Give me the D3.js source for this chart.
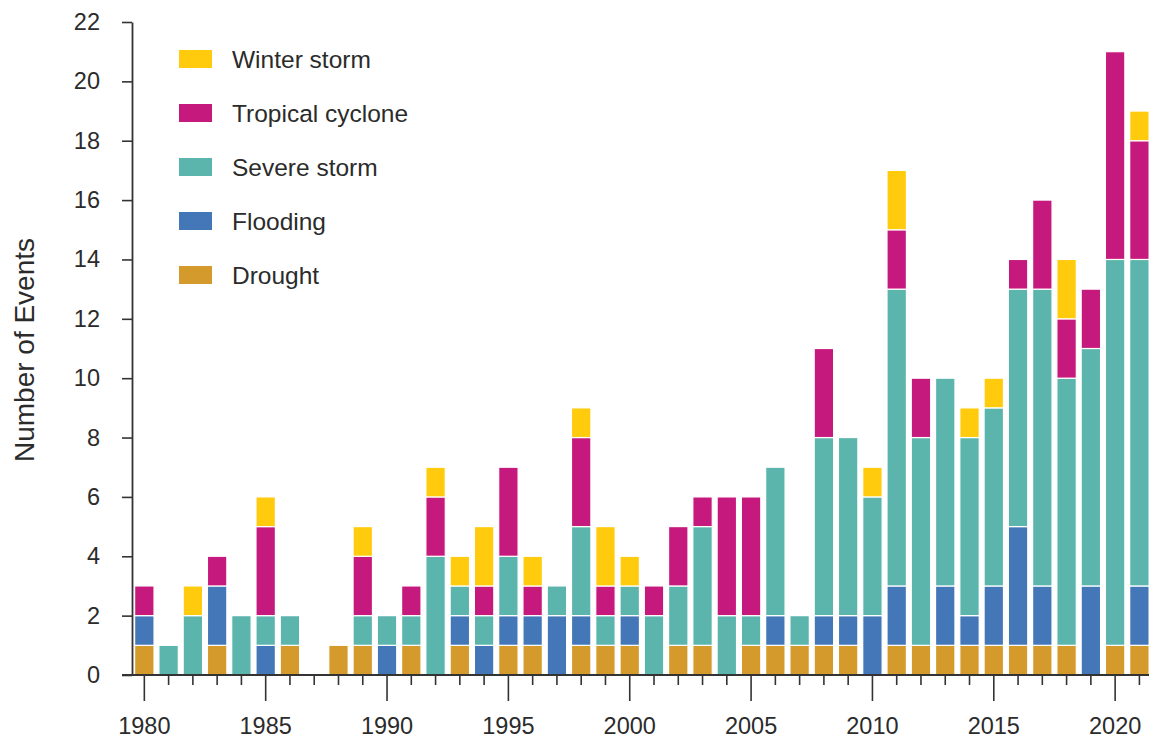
<!DOCTYPE html>
<html>
<head>
<meta charset="utf-8">
<script src="https://cdn.jsdelivr.net/npm/d3@7"></script>
<style>
  html, body { margin: 0; padding: 0; background: #fff; }
  svg { display: block; font-family: "Liberation Sans", Arial, Helvetica, sans-serif; }
</style>
</head>
<body>
<svg id="chart" width="1149" height="738"></svg>
<script>
const years = d3.range(1980, 2022);
const drought  = [1,0,0,1,0,0,1,0,1,1,0,1,0,1,0,1,1,0,1,1,1,0,1,1,0,1,1,1,1,1,0,1,1,1,1,1,1,1,1,0,1,1];
const flooding = [1,0,0,2,0,1,0,0,0,0,1,0,0,1,1,1,1,2,1,0,1,0,0,0,0,0,1,0,1,1,2,2,0,2,1,2,4,2,0,3,0,2];
const severe   = [0,1,2,0,2,1,1,0,0,1,1,1,4,1,1,2,0,1,3,1,1,2,2,4,2,1,5,1,6,6,4,10,7,7,6,6,8,10,9,8,13,11];
const tropical = [1,0,0,1,0,3,0,0,0,2,0,1,2,0,1,3,1,0,3,1,0,1,2,1,4,4,0,0,3,0,0,2,2,0,0,0,1,3,2,2,7,4];
const winter   = [0,0,1,0,0,1,0,0,0,1,0,0,1,1,2,0,1,0,1,2,1,0,0,0,0,0,0,0,0,0,1,2,0,0,1,1,0,0,2,0,0,1];
const seriesNames = ["Drought", "Flooding", "Severe storm", "Tropical cyclone", "Winter storm"];
const seriesColors = ["#D49A2B", "#4477B8", "#5BB5AD", "#C6197D", "#FFCB0C"];
const yTicks = d3.range(0, 23, 2);

const rows = years.map((yr, i) => ({
  year: yr,
  "Drought": drought[i],
  "Flooding": flooding[i],
  "Severe storm": severe[i],
  "Tropical cyclone": tropical[i],
  "Winter storm": winter[i]
}));

const svg = d3.select("#chart");
const plotLeft = 132, plotBottom = 675, plotTop = 22;

const x = d3.scaleBand().domain(years).range([132.2, 132.2 + 42 * 24.27]).paddingInner(0.2).paddingOuter(0.1);
const y = d3.scaleLinear().domain([0, 22]).range([plotBottom, plotTop]);
const color = d3.scaleOrdinal().domain(seriesNames).range(seriesColors);

const stacked = d3.stack().keys(seriesNames)(rows);

svg.append("g").selectAll("g")
  .data(stacked)
  .join("g")
  .attr("fill", d => color(d.key))
  .selectAll("rect")
  .data(d => d.filter(s => s[1] - s[0] > 0))
  .join("rect")
  .attr("x", d => x(d.data.year))
  .attr("width", x.bandwidth())
  .attr("y", d => y(d[1]))
  .attr("height", d => y(d[0]) - y(d[1]))
  .attr("stroke", "#fff")
  .attr("stroke-width", 1.2);

// X axis
const xAxis = d3.axisBottom(x)
  .tickSize(10)
  .tickSizeOuter(0)
  .tickFormat(d => d % 5 === 0 ? d : "");
const gx = svg.append("g").attr("transform", `translate(0,${plotBottom})`).call(xAxis);
gx.select(".domain").remove();
gx.selectAll(".tick line").attr("stroke", "#333").attr("stroke-width", 1.6)
  .attr("y2", d => d % 5 === 0 ? 26 : 10);
gx.selectAll(".tick text").attr("y", 42).attr("dy", "0.71em")
  .attr("fill", "#2b2b2b").style("font-size", "23.5px");
svg.append("line")
  .attr("x1", plotLeft - 10).attr("x2", 1149)
  .attr("y1", plotBottom).attr("y2", plotBottom)
  .attr("stroke", "#333").attr("stroke-width", 1.8);

// Y axis
const yAxis = d3.axisLeft(y).tickValues(yTicks).tickSize(10).tickSizeOuter(0).tickPadding(22);
const gy = svg.append("g").attr("transform", `translate(${plotLeft},0)`).call(yAxis);
gy.select(".domain").attr("stroke", "#333").attr("stroke-width", 1.8);
gy.selectAll(".tick line").attr("stroke", "#333").attr("stroke-width", 1.6);
gy.selectAll(".tick text").attr("fill", "#2b2b2b").style("font-size", "23.5px");

svg.append("text")
  .attr("transform", `translate(34,350) rotate(-90)`)
  .attr("text-anchor", "middle")
  .attr("fill", "#2b2b2b")
  .style("font-size", "28px")
  .text("Number of Events");

// Legend (top to bottom: reverse stack order)
const legendItems = seriesNames.slice().reverse();
const lg = svg.append("g");
legendItems.forEach((name, i) => {
  const cy = 59 + i * 54;
  lg.append("rect").attr("x", 179).attr("y", cy - 9).attr("width", 33).attr("height", 18)
    .attr("fill", color(name));
  lg.append("text").attr("x", 232).attr("y", cy).attr("dy", "0.36em")
    .attr("fill", "#2b2b2b").style("font-size", "24.5px").text(name);
});
</script>
</body>
</html>
